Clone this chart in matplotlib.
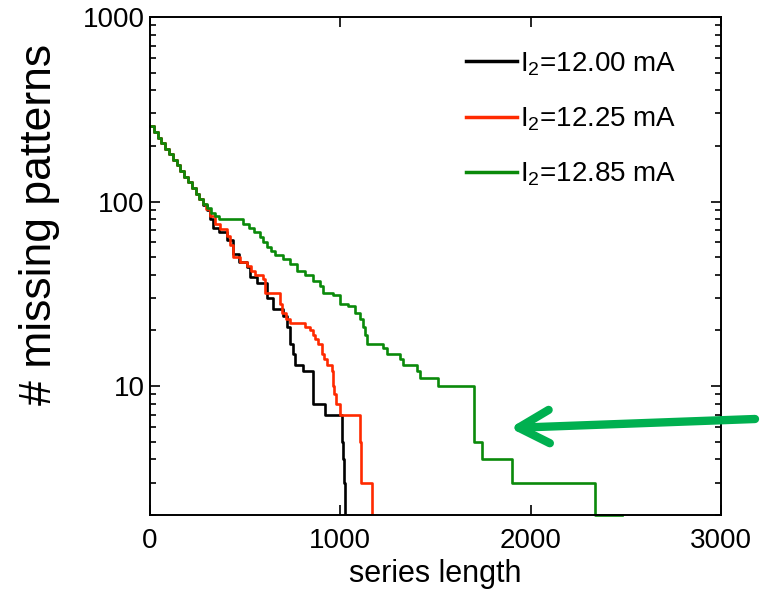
import matplotlib
matplotlib.use("Agg")
import matplotlib.pyplot as plt
from matplotlib.ticker import FixedLocator, NullFormatter, FixedFormatter, LogLocator

plt.rcParams['font.family'] = ['Liberation Sans', 'DejaVu Sans']
plt.rcParams['mathtext.default'] = 'regular'

# ---- data (step curves: number of missing patterns vs series length) ----
x_black = [0, 20, 40, 60, 80, 100, 120, 140, 160, 180,
           200, 220, 240, 260, 280, 300, 315, 331, 360, 405,
           436, 470, 510, 525, 562, 615, 646, 699, 720, 736,
           750, 762, 804, 857, 920, 1008, 1014, 1020, 1026, 1034]
y_black = [256, 239, 222, 207, 193, 180, 168, 157, 146, 136,
           127, 118, 110, 103, 96, 90, 80, 72, 68, 62,
           52, 47, 44, 39, 36, 30, 26, 24, 21, 17,
           15, 13, 12, 8, 7, 5, 4, 3, 2, 1]

x_red = [0, 20, 40, 60, 80, 100, 120, 140, 160, 180,
         200, 220, 240, 260, 280, 296, 315, 340, 368, 405,
         420, 436, 472, 510, 530, 551, 593, 604, 683, 692,
         715, 736, 815, 841, 855, 867, 885, 904, 915, 930,
         956, 962, 968, 975, 1000, 1104, 1107, 1110, 1166]
y_red = [256, 239, 222, 207, 193, 180, 168, 157, 146, 136,
         127, 118, 110, 103, 97, 91, 83, 76, 71, 65,
         58, 50, 47, 45, 42, 40, 38, 32, 28, 25,
         23, 22, 21, 20, 19, 18, 17, 15, 14, 13,
         12, 10, 9, 8, 7, 5, 4, 3, 1]

x_green = [0, 20, 40, 60, 80, 100, 120, 140, 160, 180,
           200, 220, 240, 260, 280, 300, 320, 340, 360, 490,
           520, 545, 578, 595, 613, 635, 657, 699, 736, 771,
           815, 857, 893, 909, 962, 998, 1040, 1077, 1104, 1120,
           1130, 1139, 1224, 1244, 1314, 1330, 1401, 1419, 1515, 1700,
           1743, 1900, 2338, 2478]
y_green = [256, 239, 222, 207, 193, 180, 168, 157, 146, 136,
           127, 118, 110, 103, 97, 92, 87, 83, 80, 76,
           72, 68, 64, 60, 57, 54, 51, 49, 46, 42,
           40, 37, 35, 32, 31, 28, 27, 25, 23, 21,
           19, 17, 16, 15, 14, 13, 12, 11, 10, 5,
           4, 3, 2, 2]

labels = [r'I$_2$=12.00 mA', r'I$_2$=12.25 mA', r'I$_2$=12.85 mA']
x_ticks = [0, 1000, 2000, 3000]
x_ticklabels = ['0', '1000', '2000', '3000']
y_ticks = [10, 100, 1000]
y_ticklabels = ['10', '100', '1000']

fig = plt.figure(figsize=(7.63, 6.05), dpi=100)
ax = fig.add_axes([150/763, 1-515/605, 571/763, 498/605])

ax.step(x_black, y_black, where='post', color='black', lw=1.9, label=labels[0])
ax.step(x_red, y_red, where='post', color='#ff2a00', lw=1.9, label=labels[1])
ax.step(x_green, y_green, where='post', color='#0a8a0a', lw=1.9, label=labels[2],
        clip_on=False)

ax.set_yscale('log')
ax.set_xlim(0, 3000)
ax.set_ylim(2, 1000)
ax.set_xticks(x_ticks)
ax.set_xticklabels(x_ticklabels)
ax.yaxis.set_major_locator(FixedLocator(y_ticks))
ax.yaxis.set_major_formatter(FixedFormatter(y_ticklabels))
ax.yaxis.set_minor_locator(LogLocator(base=10, subs=range(2, 10)))
ax.yaxis.set_minor_formatter(NullFormatter())

for s in ax.spines.values():
    s.set_linewidth(1.4)
ax.tick_params(which='both', direction='in', top=True, right=True, width=1.2, labelsize=20)
ax.tick_params(which='major', length=7)
ax.tick_params(which='minor', length=4)
ax.tick_params(axis='x', pad=9)
ax.tick_params(axis='y', pad=4)

ax.set_xlabel('series length', fontsize=22, labelpad=4)
fig.text(40/763, 1-224/605, '# missing patterns', rotation=90, fontsize=32,
         ha='center', va='center')

leg = ax.legend(loc='upper left', bbox_to_anchor=(466/763, 1-50/605),
                bbox_transform=fig.transFigure, frameon=False, fontsize=20,
                handlelength=1.85, handletextpad=0.1, labelspacing=1.0,
                borderpad=0, borderaxespad=0)
for h in leg.get_lines():
    h.set_linewidth(2.5)

ax.annotate('', xy=(510/763, 1-428/605), xycoords='figure fraction',
            xytext=(755/763, 1-419/605), textcoords='figure fraction',
            arrowprops=dict(arrowstyle='->,head_length=1.1,head_width=0.6',
                            color='#00b050', lw=6, capstyle='round',
                            joinstyle='round', mutation_scale=20,
                            shrinkA=0, shrinkB=0),
            annotation_clip=False)

fig.savefig('out.png', dpi=100)
